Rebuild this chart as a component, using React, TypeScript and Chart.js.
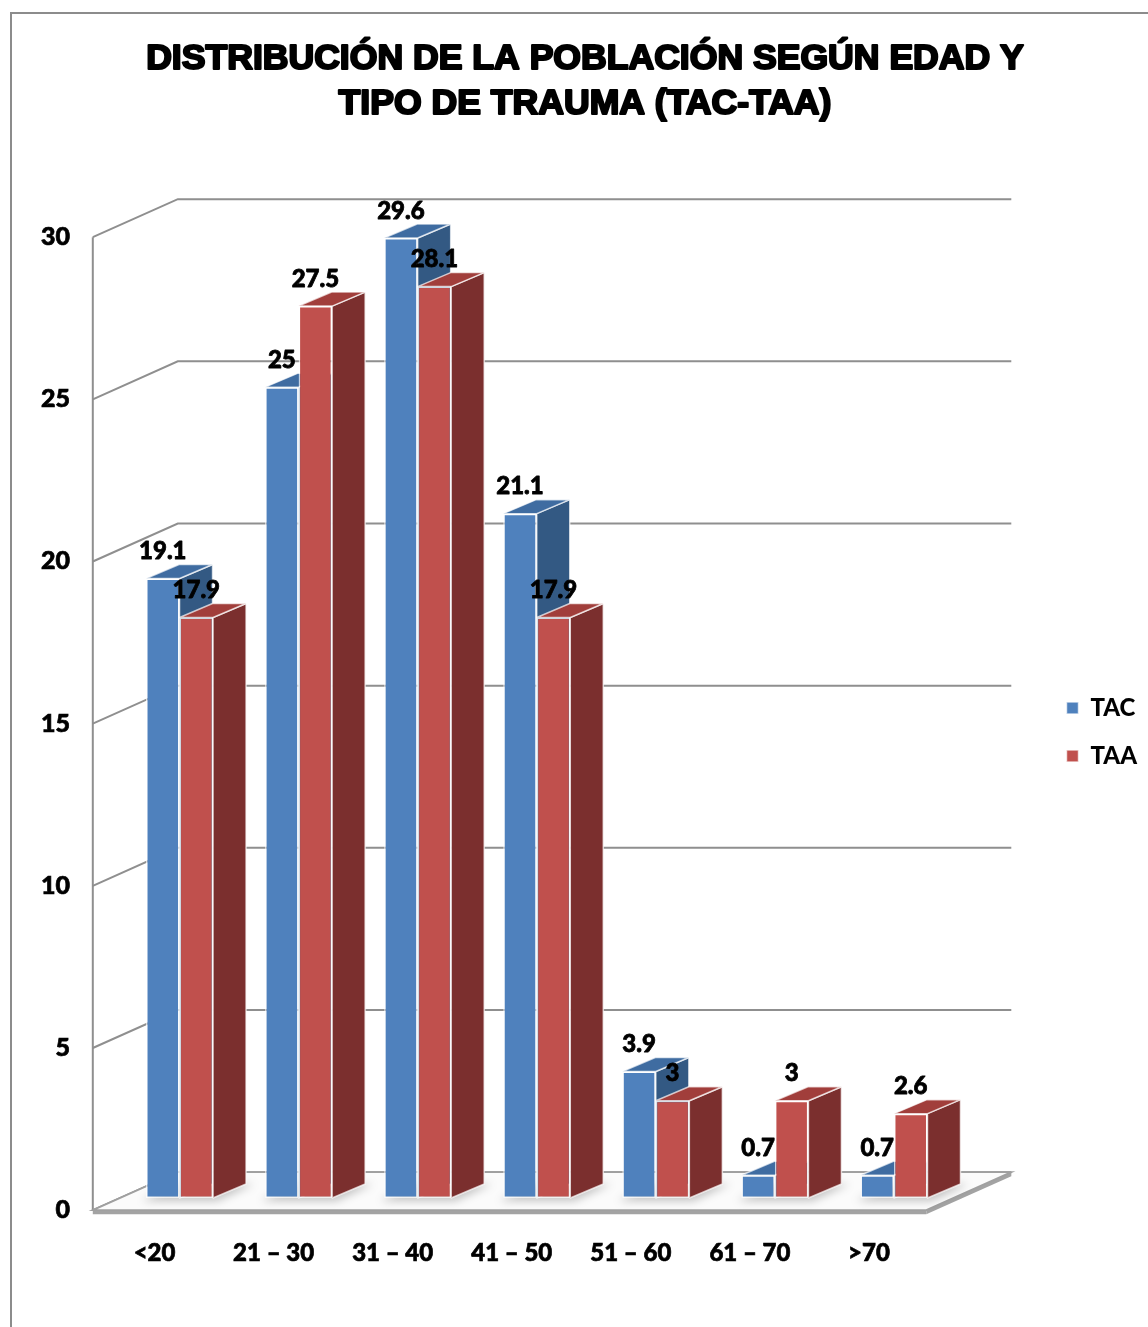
import { useEffect, useRef } from 'react';
import { Chart, registerables } from 'chart.js';

Chart.register(...registerables);

// ---- data ----
const TITLE_LINES = ['DISTRIBUCIÓN DE LA POBLACIÓN SEGÚN EDAD Y', 'TIPO DE TRAUMA (TAC-TAA)'];
const CATEGORIES = ['<20', '21 – 30', '31 – 40', '41 – 50', '51 – 60', '61 – 70', '>70'];
const SERIES_NAMES = ['TAC', 'TAA'];
const TAC_VALUES = [19.1, 25, 29.6, 21.1, 3.9, 0.7, 0.7];
const TAA_VALUES = [17.9, 27.5, 28.1, 17.9, 3, 3, 2.6];
const Y_MIN = 0;
const Y_MAX = 30;
const Y_STEP = 5;

// ---- style ----
const FRONT_COLORS = ['#4F81BD', '#C0504D'];
const TOP_COLORS = ['#3F6CA1', '#A13E3B'];
const SIDE_COLORS = ['#335983', '#7B2F2E'];
const EDGE = 'rgba(255,255,255,0.7)';
const GRID = '#8f8f8f';
const FONT = 'Lato, "Open Sans", "Liberation Sans", sans-serif';
const TITLE_FONT = '"Liberation Sans", Arial, sans-serif';
const TITLE_SIZE = 35.6;
const TITLE_LH = 45 / 35.6;
const TITLE_PAD_TOP = 37;
const LEGEND_FONT_SIZE = 24;
const LEGEND_PAD = 24;
const LEGEND_BOX = 12;
// 3D geometry
const DEPTH_X = 85;
const DEPTH_Y = -38;
const PLANE = 0.32; // bar plane position between front (0) and back (1)
const BAR_DX = 33;
const BAR_DY = -14;

function poly(ctx: CanvasRenderingContext2D, pts: number[][]) {
  ctx.beginPath();
  ctx.moveTo(pts[0][0], pts[0][1]);
  for (let i = 1; i < pts.length; i++) ctx.lineTo(pts[i][0], pts[i][1]);
  ctx.closePath();
}

const threeDPlugin = {
  id: 'threeD',
  beforeDraw(chart: any) {
    const ctx: CanvasRenderingContext2D = chart.ctx;
    ctx.save();
    ctx.strokeStyle = '#8c8c8c';
    ctx.lineWidth = 2;
    ctx.beginPath();
    ctx.moveTo(11, chart.height + 10);
    ctx.lineTo(11, 13);
    ctx.lineTo(chart.width + 10, 13);
    ctx.stroke();
    ctx.restore();
  },
  beforeDatasetsDraw(chart: any) {
    const ctx: CanvasRenderingContext2D = chart.ctx;
    const ys = chart.scales.y;
    const { left: L, right: R } = chart.chartArea;
    const fx = -DEPTH_X * PLANE;
    const fy = -DEPTH_Y * PLANE;
    const bx = DEPTH_X * (1 - PLANE);
    const by = DEPTH_Y * (1 - PLANE);
    const y0 = ys.getPixelForValue(Y_MIN);
    ctx.save();
    // walls
    ctx.strokeStyle = GRID;
    ctx.lineWidth = 2;
    ys.ticks.forEach((t: any) => {
      const py = ys.getPixelForValue(t.value);
      ctx.beginPath();
      ctx.moveTo(L + fx, py + fy);
      ctx.lineTo(L + bx, py + by);
      ctx.lineTo(R + bx, py + by);
      ctx.stroke();
    });
    ctx.beginPath();
    ctx.moveTo(L + fx, ys.getPixelForValue(Y_MAX) + fy);
    ctx.lineTo(L + fx, y0 + fy);
    ctx.stroke();

    // floor
    const p1 = [L + fx, y0 + fy];
    const p2 = [R + fx, y0 + fy];
    const p3 = [R + bx, y0 + by];
    const p4 = [L + bx, y0 + by];
    const th = 4;
    ctx.fillStyle = '#a3a3a3';
    poly(ctx, [p1, p2, [p2[0], p2[1] + th], [p1[0], p1[1] + th]]);
    ctx.fill();
    poly(ctx, [p2, p3, [p3[0], p3[1] + th], [p2[0], p2[1] + th]]);
    ctx.fill();
    ctx.fillStyle = '#fbfbfb';
    poly(ctx, [p1, p2, p3, p4]);
    ctx.fill();
    ctx.strokeStyle = '#a0a0a0';
    ctx.lineWidth = 1.8;
    ctx.stroke();

    // soft shadows under bars
    const m0 = chart.getDatasetMeta(0);
    const m1 = chart.getDatasetMeta(1);
    ctx.save();
    ctx.filter = 'blur(4px)';
    ctx.fillStyle = 'rgba(0,0,0,0.22)';
    m0.data.forEach((a: any, j: number) => {
      const b = m1.data[j];
      const l = a.x - a.width / 2 - 4;
      const r = b.x + b.width / 2 + 4;
      const base = a.base;
      poly(ctx, [[l, base + 3], [r, base + 3], [r + BAR_DX + 4, base + BAR_DY], [l + BAR_DX, base + BAR_DY]]);
      ctx.fill();
    });
    ctx.restore();

    // bar tops and sides
    ctx.strokeStyle = EDGE;
    ctx.lineWidth = 1.5;
    ctx.lineJoin = 'round';
    [0, 1].forEach((di) => {
      const meta = chart.getDatasetMeta(di);
      meta.data.forEach((el: any) => {
        const l = el.x - el.width / 2;
        const r = el.x + el.width / 2;
        const t = Math.min(el.y, el.base);
        const b = Math.max(el.y, el.base);
        ctx.fillStyle = SIDE_COLORS[di];
        poly(ctx, [[r, t], [r + BAR_DX, t + BAR_DY], [r + BAR_DX, b + BAR_DY], [r, b]]);
        ctx.fill();
        ctx.stroke();
        ctx.fillStyle = TOP_COLORS[di];
        poly(ctx, [[l, t], [r, t], [r + BAR_DX, t + BAR_DY], [l + BAR_DX, t + BAR_DY]]);
        ctx.fill();
        ctx.stroke();
      });
    });
    ctx.restore();
  },
  afterDatasetsDraw(chart: any) {
    const ctx: CanvasRenderingContext2D = chart.ctx;
    ctx.save();
    ctx.font = `900 24px ${FONT}`;
    ctx.fillStyle = '#000';
    ctx.strokeStyle = '#000';
    ctx.lineWidth = 0.8;
    ctx.lineJoin = 'round';
    ctx.textAlign = 'center';
    ctx.textBaseline = 'middle';
    chart.data.datasets.forEach((ds: any, di: number) => {
      const meta = chart.getDatasetMeta(di);
      meta.data.forEach((el: any, j: number) => {
        const txt = String(ds.data[j]);
        ctx.fillText(txt, el.x, el.y - 27);
        ctx.strokeText(txt, el.x, el.y - 27);
      });
    });
    ctx.restore();
  },
  afterDraw(chart: any) {
    // thicken the title strokes (heavy display style of the original)
    const tb = chart.titleBlock;
    if (!tb) return;
    const ctx: CanvasRenderingContext2D = chart.ctx;
    const lh = TITLE_SIZE * TITLE_LH;
    ctx.save();
    ctx.font = `bold ${TITLE_SIZE}px ${TITLE_FONT}`;
    ctx.strokeStyle = '#000';
    ctx.lineWidth = 2.2;
    ctx.lineJoin = 'round';
    ctx.textAlign = 'center';
    ctx.textBaseline = 'middle';
    const cx = (tb.left + tb.right) / 2;
    TITLE_LINES.forEach((line, i) => {
      ctx.strokeText(line, cx, tb.top + TITLE_PAD_TOP + lh / 2 + i * lh);
    });
    ctx.restore();
  },
};

function legendNaturalWidth() {
  const c = document.createElement('canvas').getContext('2d') as CanvasRenderingContext2D;
  c.font = `900 ${LEGEND_FONT_SIZE}px ${FONT}`;
  const w = Math.max(...SERIES_NAMES.map((n) => c.measureText(n).width));
  return LEGEND_PAD + LEGEND_BOX + LEGEND_FONT_SIZE / 2 + w + 10;
}

export default function App() {
  const ref = useRef<HTMLCanvasElement>(null);
  useEffect(() => {
    const W = 1148;
    const chartRight = 953;
    const legendLeft = 1042;
    const legW = legendNaturalWidth() + 0.5;
    const padRight = Math.max(0, W - legendLeft - legW);
    const gapW = W - padRight - legW - chartRight;
    const chart = new Chart(ref.current as HTMLCanvasElement, {
      type: 'bar',
      data: {
        labels: CATEGORIES,
        datasets: [
          {
            label: SERIES_NAMES[0],
            data: TAC_VALUES,
            backgroundColor: FRONT_COLORS[0],
            borderColor: EDGE,
            borderWidth: 1.5,
            borderSkipped: false,
            barPercentage: 1,
            categoryPercentage: 0.563,
          },
          {
            label: SERIES_NAMES[1],
            data: TAA_VALUES,
            backgroundColor: FRONT_COLORS[1],
            borderColor: EDGE,
            borderWidth: 1.5,
            borderSkipped: false,
            barPercentage: 1,
            categoryPercentage: 0.563,
          },
        ],
      },
      options: {
        responsive: false,
        animation: false,
        events: [],
        layout: { padding: { top: 0, left: 23, right: padRight, bottom: 29 } },
        scales: {
          x: {
            grid: { display: false, drawTicks: false },
            border: { display: false },
            ticks: {
              color: '#000',
              font: { family: FONT, size: 24, weight: '900' },
              textStrokeColor: '#000',
              textStrokeWidth: 0.7,
              padding: 41,
              labelOffset: -25,
              maxRotation: 0,
            },
            afterFit: (s: any) => {
              s.height = 100;
            },
          },
          y: {
            min: Y_MIN,
            max: Y_MAX,
            grid: { display: false, drawTicks: false },
            border: { display: false },
            ticks: {
              stepSize: Y_STEP,
              color: '#000',
              font: { family: FONT, size: 25, weight: '900' },
              textStrokeColor: '#000',
              textStrokeWidth: 0.7,
              padding: 50,
              labelOffset: 12,
            },
            afterFit: (s: any) => {
              s.width = 97;
            },
          },
          yr: {
            type: 'linear',
            position: 'right',
            grid: { display: false, drawTicks: false },
            border: { display: false },
            ticks: { display: false },
            afterFit: (s: any) => {
              s.width = gapW;
            },
          },
        },
        plugins: {
          title: {
            display: true,
            text: TITLE_LINES,
            color: '#000',
            font: { family: TITLE_FONT, size: TITLE_SIZE, weight: 'bold', lineHeight: TITLE_LH },
            padding: { top: TITLE_PAD_TOP, bottom: 98 },
          },
          legend: {
            display: true,
            position: 'right',
            fullSize: false,
            maxWidth: legW,
            title: { display: true, text: ' ', font: { size: 10, lineHeight: 1.2 }, padding: { top: 29, bottom: 0 } },
            labels: {
              boxWidth: LEGEND_BOX,
              boxHeight: LEGEND_BOX,
              padding: LEGEND_PAD,
              color: '#000',
              font: { family: FONT, size: LEGEND_FONT_SIZE, weight: '900' },
            },
          },
          tooltip: { enabled: false },
        },
      },
      plugins: [threeDPlugin],
    } as any);
    return () => chart.destroy();
  }, []);
  return (
    <div style={{ position: 'absolute', left: 0, top: 0, width: 1148, height: 1327, overflow: 'hidden', background: '#fff' }}>
      <canvas ref={ref} width={1148} height={1327} style={{ display: 'block' }} />
    </div>
  );
}
